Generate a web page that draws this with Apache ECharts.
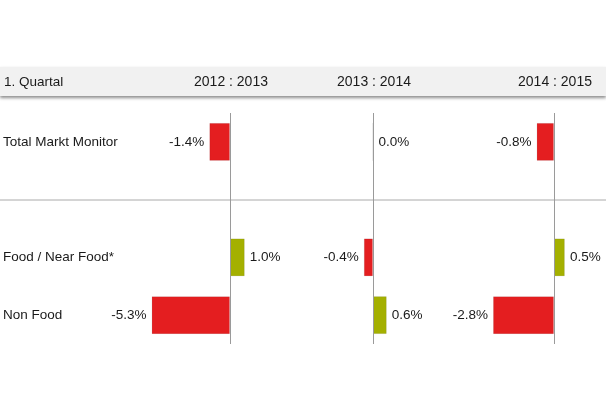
<!DOCTYPE html>
<html>
<head>
<meta charset="utf-8">
<script src="https://cdn.jsdelivr.net/npm/echarts@6/dist/echarts.min.js"></script>
<style>
html,body{margin:0;padding:0;background:#fff;}
#c{width:606px;height:402px;}
</style>
</head>
<body>
<div id="c"></div>
<script>
// ---- data ----
var categories = ['Total Markt Monitor', '', 'Food / Near Food*', 'Non Food'];
var periodLabels = ['2012 : 2013', '2013 : 2014', '2014 : 2015'];
var headerTitle = '1. Quartal';
var values2012_2013 = [-1.4, '-', 1.0, -5.3];
var values2013_2014 = [0.0, '-', -0.4, 0.6];
var values2014_2015 = [-0.8, '-', 0.5, -2.8];

var panelValues = [values2012_2013, values2013_2014, values2014_2015];
var panelRange = [[-6, 2], [-1, 1], [-3, 1]];
var panelGrid = [{left: 141.2, width: 118.4}, {left: 350, width: 46}, {left: 488.6, width: 87.2}];

var FONT = '"Liberation Sans", Arial, sans-serif';
var RED = '#e41e20', GREEN = '#a4b000';
var gridTop = 113, gridHeight = 231;

var grids = [], xAxes = [], yAxes = [], series = [];
panelValues.forEach(function (vals, i) {
  grids.push({left: panelGrid[i].left, width: panelGrid[i].width, top: gridTop, height: gridHeight, containLabel: false});
  xAxes.push({type: 'value', gridIndex: i, min: panelRange[i][0], max: panelRange[i][1], show: false, splitLine: {show: false}});
  yAxes.push({type: 'category', gridIndex: i, data: categories, inverse: true, show: false});
  series.push({
    type: 'bar', xAxisIndex: i, yAxisIndex: i, barWidth: 38,
    data: vals.map(function (v) {
      if (v === '-') return v;
      return {value: v, label: {position: v < 0 ? 'left' : 'right'}};
    }),
    itemStyle: {
      color: function (p) { return p.value < 0 ? RED : GREEN; },
      borderColor: 'rgba(0,0,0,0.08)', borderWidth: 1
    },
    label: {
      show: true,
      distance: 5,
      fontFamily: FONT, fontSize: 13.5, color: '#1a1a1a',
      formatter: function (p) { return p.value.toFixed(1) + '%'; }
    },
    markLine: {
      silent: true, symbol: 'none', label: {show: false},
      lineStyle: {color: '#9a9a9a', width: 1, type: 'solid'},
      data: [{xAxis: 0}]
    },
    animation: false
  });
});

// category label grid
grids.push({left: 3, width: 1, top: gridTop, height: gridHeight});
xAxes.push({type: 'value', gridIndex: 3, show: false});
yAxes.push({
  type: 'category', gridIndex: 3, data: categories, inverse: true,
  axisLine: {show: false}, axisTick: {show: false},
  axisLabel: {inside: true, margin: 0, align: 'left', fontFamily: FONT, fontSize: 13.5, color: '#1a1a1a'}
});

var chart = echarts.init(document.getElementById('c'));
chart.setOption({
  animation: false,
  grid: grids, xAxis: xAxes, yAxis: yAxes, series: series
});

var gfx = [
  {type: 'rect', shape: {x: 0, y: 67, width: 606, height: 29}, style: {fill: '#f1f1f1', shadowColor: 'rgba(0,0,0,0.45)', shadowBlur: 3, shadowOffsetY: 2}, z: 0},
  {type: 'line', shape: {x1: 0, y1: 200, x2: 606, y2: 200}, style: {stroke: '#aaaaaa', lineWidth: 1}, z: 0},
  {type: 'text', x: 4, y: 82, style: {text: headerTitle, fontFamily: FONT, fontSize: 13.5, fill: '#1a1a1a', verticalAlign: 'middle', textAlign: 'left'}, z: 5}
];
periodLabels.forEach(function (t, i) {
  var px = chart.convertToPixel({xAxisIndex: i}, 0);
  gfx.push({type: 'text', x: px + 1, y: 82, style: {text: t, fontFamily: FONT, fontSize: 14, fill: '#1a1a1a', textAlign: 'center', verticalAlign: 'middle'}, z: 5});
});
chart.setOption({graphic: gfx});
</script>
</body>
</html>
